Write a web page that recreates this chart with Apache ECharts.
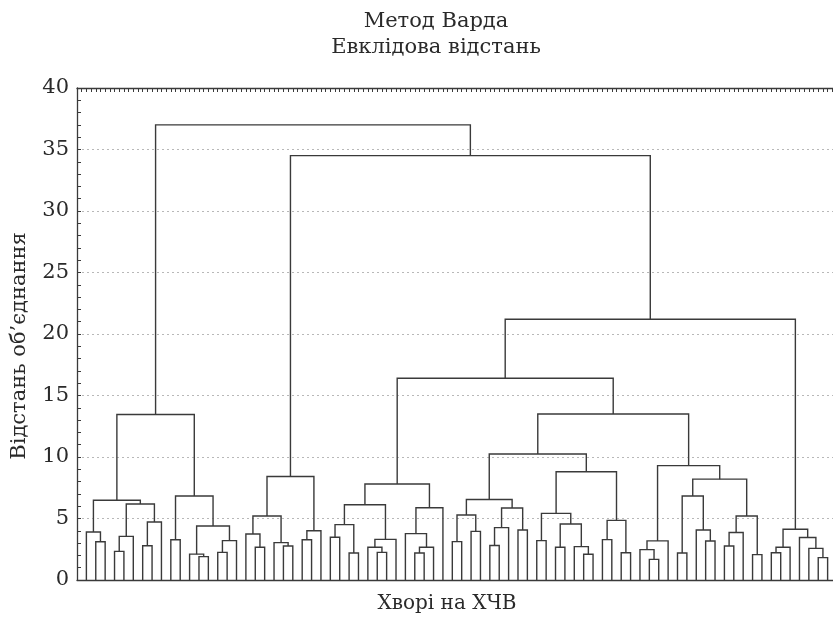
<!DOCTYPE html>
<html>
<head>
<meta charset="utf-8">
<script src="https://cdn.jsdelivr.net/npm/echarts@6/dist/echarts.min.js"></script>
<style>
  html, body { margin: 0; padding: 0; background: #ffffff; overflow: hidden; }
  #chart { width: 833px; height: 619px; }
</style>
</head>
<body>
<div id="chart"></div>
<script>
// Texts
const titleLines = ['Метод Варда', 'Евклідова відстань'];
const xAxisName = 'Хворі на ХЧВ';
const yAxisName = 'Відстань об’єднання';

// Axis range and ticks
const yTicks = [0, 5, 10, 15, 20, 25, 30, 35, 40];
const leafCount = 80;

// Ward clustering tree: internal node = [linkage distance, left, right],
// leaf = patient position (1..80, left to right)
const groupA = [13.45,
  [6.48,
    [3.9, 1, [3.11, 2, 3]],
    [6.18, [3.55, [2.33, 4, 5], 6], [4.72, [2.79, 7, 8], 9]]],
  [6.83,
    [3.27, 10, 11],
    [4.39, [2.1, 12, [1.9, 13, 14]], [3.2, [2.25, 15, 16], 17]]]];

const groupB = [8.42,
  [5.2,
    [3.74, 18, [2.66, 19, 20]],
    [3.04, 21, [2.76, 22, 23]]],
  [4.0, [3.27, 24, 25], 26]];

const groupC = [7.8,
  [6.12,
    [4.5, [3.47, 27, 28], [2.2, 29, 30]],
    [3.3, [2.66, 31, [2.25, 32, 33]], 34]],
  [5.88, [3.77, 35, [2.66, [2.2, 36, 37], 38]], 39]];

const groupD = [10.24,
  [6.55,
    [5.28, [3.12, 40, 41], [3.95, 42, 43]],
    [5.85, [4.26, [2.8, 44, 45], 46], [4.07, 47, 48]]],
  [8.8,
    [5.42, [3.2, 49, 50], [4.55, [2.66, 51, 52], [2.71, 53, [2.09, 54, 55]]]],
    [4.85, [3.28, 56, 57], [2.22, 58, 59]]]];

const groupE = [9.3,
  [3.18, [2.47, 60, [1.68, 61, 62]], 63],
  [8.2,
    [6.83, [2.2, 64, 65], [4.07, 66, [3.17, 67, 68]]],
    [5.2, [3.86, [2.76, 69, 70], 71], [2.06, 72, 73]]]];

const groupF = [4.12,
  [2.66, [2.22, 74, 75], 76],
  [3.45, 77, [2.57, 78, [1.82, 79, 80]]]];

const tree = [37.0, groupA,
  [34.5, groupB,
    [21.2,
      [16.4, groupC, [13.5, groupD, groupE]],
      groupF]]];

// Flatten the tree into links: [xLeft, hLeft, xRight, hRight, height]
const links = [];
function walk(node) {
  if (typeof node === 'number') return { x: node, h: 0 };
  const l = walk(node[1]);
  const r = walk(node[2]);
  links.push([l.x, l.h, r.x, r.h, node[0]]);
  return { x: (l.x + r.x) / 2, h: node[0] };
}
walk(tree);

const serif = '"DejaVu Serif", "Liberation Serif", serif';
const ink = '#3a3a3a';
const textInk = '#2a2a2a';

const chart = echarts.init(document.getElementById('chart'), null, { renderer: 'canvas' });
chart.setOption({
  animation: false,
  backgroundColor: '#ffffff',
  title: {
    text: titleLines.join('\n'),
    left: 431, top: 4,
    textAlign: 'center',
    textStyle: { fontFamily: serif, fontWeight: 'normal', fontSize: 21, color: textInk, lineHeight: 26 }
  },
  graphic: [{
    type: 'text',
    x: 20, y: 346,
    rotation: Math.PI / 2,
    style: {
      text: yAxisName,
      font: '21px ' + serif,
      fill: textInk,
      align: 'center',
      verticalAlign: 'middle'
    }
  }],
  grid: { left: 77, top: 88, width: 760, height: 492, outerBoundsMode: 'none', containLabel: false },
  xAxis: [{
    type: 'value', min: 0, max: leafCount + 1,
    position: 'bottom',
    name: xAxisName, nameLocation: 'middle', nameGap: 14,
    nameTextStyle: { fontFamily: serif, fontSize: 20, color: textInk, padding: [0, 0, 0, -20] },
    axisLine: { show: true, lineStyle: { color: ink, width: 1.3 } },
    axisTick: { show: false }, axisLabel: { show: false }, splitLine: { show: false }
  }, {
    type: 'value', min: 0, max: leafCount + 1, interval: 0.5,
    position: 'top',
    axisLine: { show: true, onZero: false, lineStyle: { color: ink, width: 1.3 } },
    axisTick: { show: true, inside: true, length: 4, lineStyle: { color: ink, width: 1 } },
    axisLabel: { show: false }, splitLine: { show: false }
  }],
  yAxis: {
    type: 'value', min: 0, max: 40, interval: 5,
    axisLine: { show: true, lineStyle: { color: ink, width: 1.3 } },
    axisTick: { show: true, inside: true, length: 4, lineStyle: { color: ink } },
    minorTick: { show: true, splitNumber: 5, length: 4, lineStyle: { color: ink } },
    axisLabel: {
      fontFamily: serif, fontSize: 21, color: textInk, margin: 8,
      formatter: v => (yTicks.indexOf(v) >= 0 ? String(v) : '')
    },
    splitLine: {
      show: true,
      lineStyle: { color: '#b8b8b8', type: [2, 3], width: 1 }
    }
  },
  series: [{
    type: 'custom',
    coordinateSystem: 'cartesian2d',
    xAxisIndex: 0,
    data: links,
    encode: { x: [0, 2], y: [1, 3, 4] },
    clip: false,
    renderItem: function (params, api) {
      const a = api.coord([api.value(0), api.value(1)]);
      const b = api.coord([api.value(0), api.value(4)]);
      const c = api.coord([api.value(2), api.value(4)]);
      const d = api.coord([api.value(2), api.value(3)]);
      return {
        type: 'polyline',
        shape: { points: [a, b, c, d] },
        style: { stroke: ink, lineWidth: 1.4, fill: null }
      };
    }
  }]
});
</script>
</body>
</html>
